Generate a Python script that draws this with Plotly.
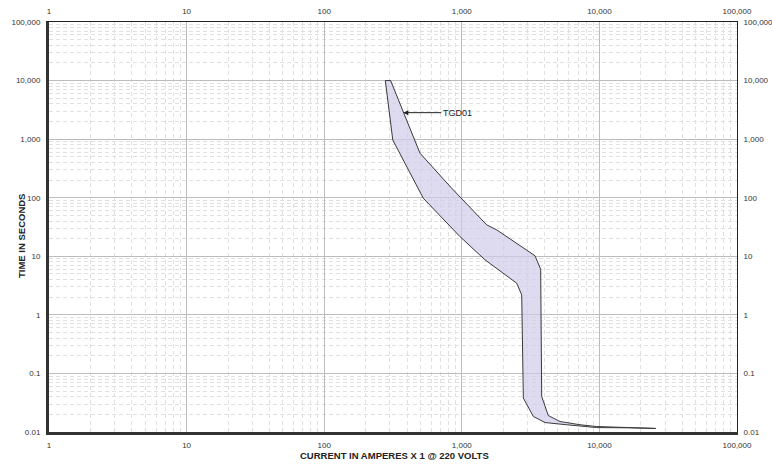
import plotly.graph_objects as go

# Band boundaries (current in A, time in s)
min_current = [278, 315, 525, 970, 1474, 2506, 2725, 2800, 3311, 4027, 5785, 9550, 16220]
min_time = [10000, 968, 98, 21.7, 8.7, 3.47, 2.19, 0.038, 0.0184, 0.0145, 0.0133, 0.0119, 0.0118]

max_current = [304, 497, 845, 1517, 1795, 3404, 3742, 3808, 4253, 5171, 7228, 9550, 16220, 25650]
max_time = [10000, 574, 145, 34.4, 28.2, 10.2, 6.0, 0.0404, 0.0191, 0.0151, 0.0133, 0.0124, 0.0121, 0.0115]

x_tickvals = [1, 10, 100, 1000, 10000, 100000]
x_ticktext = ["1", "10", "100", "1,000", "10,000", "100,000"]
y_tickvals = [0.01, 0.1, 1, 10, 100, 1000, 10000, 100000]
y_ticktext = ["0.01", "0.1", "1", "10", "100", "1,000", "10,000", "100,000"]

band_label = "TGD01"
x_title = "CURRENT IN AMPERES X 1 @ 220 VOLTS"
y_title = "TIME IN SECONDS"

poly_x = min_current + max_current[::-1]
poly_y = min_time + max_time[::-1]

fig = go.Figure()
fig.add_trace(go.Scatter(
    x=poly_x + [poly_x[0]], y=poly_y + [poly_y[0]],
    mode="lines", fill="toself",
    fillcolor="rgba(208,202,234,0.7)",
    line=dict(color="#3a3a3a", width=1),
    hoverinfo="skip", showlegend=False,
))
# invisible trace for secondary axes
fig.add_trace(go.Scatter(x=[1, 100000], y=[0.01, 100000], xaxis="x2", yaxis="y2",
                         mode="markers", marker=dict(opacity=0), showlegend=False,
                         hoverinfo="skip"))

FONT = "Liberation Sans, Arial, sans-serif"
tickfont = dict(family=FONT, size=8, color="#333")

common_grid = dict(
    showgrid=True, gridcolor="#bcbcbc", gridwidth=1,
    minor=dict(dtick="D1", showgrid=True, gridcolor="#e0e0e0", griddash="4px,3px", gridwidth=1),
    zeroline=False, automargin=False,
)

fig.update_layout(
    width=772, height=465,
    margin=dict(l=49, r=35, t=22, b=33),
    plot_bgcolor="white", paper_bgcolor="white",
    showlegend=False,
    xaxis=dict(type="log", range=[0, 5], tickvals=x_tickvals, ticktext=x_ticktext,
               tickfont=tickfont, ticks="outside", ticklen=3, tickcolor="rgba(0,0,0,0)",
               showline=True, linecolor="#333", linewidth=3, **common_grid),
    xaxis2=dict(type="log", range=[0, 5], overlaying="x", side="top", tickvals=x_tickvals,
                ticktext=x_ticktext, tickfont=tickfont, ticks="outside", ticklen=4,
                tickcolor="rgba(0,0,0,0)", showline=True, linecolor="#222", linewidth=1,
                showgrid=False, zeroline=False, automargin=False),
    yaxis=dict(type="log", range=[-2, 5], tickvals=y_tickvals, ticktext=y_ticktext,
               tickfont=tickfont, ticks="outside", ticklen=4, tickcolor="rgba(0,0,0,0)",
               showline=True, linecolor="#333", linewidth=3, **common_grid),
    yaxis2=dict(type="log", range=[-2, 5], overlaying="y", side="right", tickvals=y_tickvals,
                ticktext=y_ticktext, tickfont=tickfont, ticks="outside", ticklen=4,
                tickcolor="rgba(0,0,0,0)", showline=True, linecolor="#222", linewidth=1,
                showgrid=False, zeroline=False, automargin=False),
)

fig.add_annotation(
    x=2.575, y=3.452, xref="x", yref="y", text=band_label, showarrow=True,
    ax=38, ay=0, xanchor="left", arrowhead=2, arrowsize=1, arrowwidth=1, arrowcolor="#222",
    font=dict(family=FONT, size=9, color="#222"),
)
pw = 772 - 49 - 35
ph = 465 - 22 - 33
fig.add_annotation(
    x=(394 - 49) / pw, y=-(455 - 432) / ph, xref="paper", yref="paper",
    text="<b>" + x_title + "</b>", showarrow=False,
    xanchor="center", yanchor="middle",
    font=dict(family=FONT, size=9.5, color="#222"),
)
fig.add_annotation(
    x=-(49 - 21) / pw, y=(432 - 236) / ph, xref="paper", yref="paper",
    text="<b>" + y_title + "</b>", textangle=-90, showarrow=False,
    xanchor="center", yanchor="middle",
    font=dict(family=FONT, size=9.5, color="#222"),
)

fig.write_html("out.html")
